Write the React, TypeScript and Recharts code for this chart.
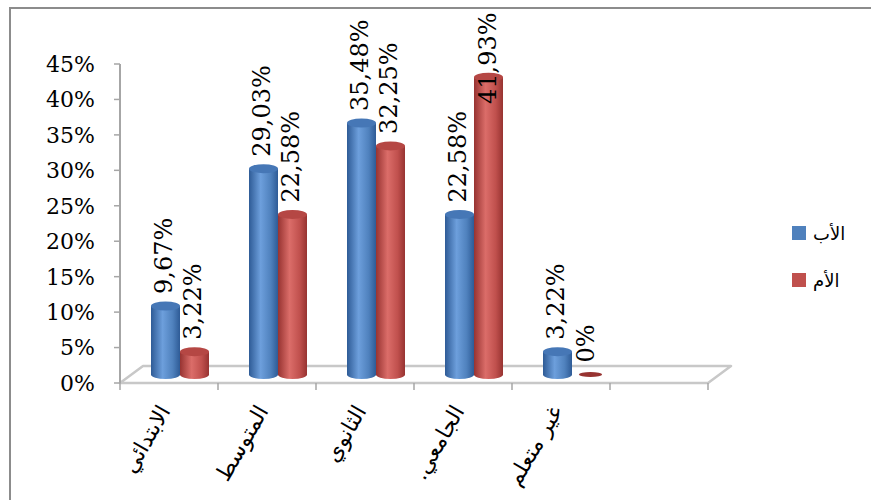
import { BarChart, Bar, XAxis, YAxis, LabelList } from "recharts"

// categories (last one is the empty slot Excel leaves on the floor)
const categories = ["الابتدائي", "المتوسط", "الثانوي", "الجامعي.\u200F", "غير  متعلم", ""]
const fatherValues = [9.67, 29.03, 35.48, 22.58, 3.22, null]
const motherValues = [3.22, 22.58, 32.25, 41.93, 0, null]
const seriesNames = ["الأب", "الأم"]
const yTicks = [0, 5, 10, 15, 20, 25, 30, 35, 40, 45]

const data = categories.map((name, i) => ({
  name,
  father: fatherValues[i],
  mother: motherValues[i],
}))

// layout
const W = 871
const H = 500
const PLOT_LEFT = 120
const PLOT_RIGHT = 708
const PLOT_TOP = 64
const BASE_Y = 383
const BAND = (PLOT_RIGHT - PLOT_LEFT) / categories.length
const DEPTH_X = 23
const DEPTH_Y = 17
const DX = 11 // bars sit half way into the floor
const DY = -8.5
const NUM_FONT = "DejaVu Serif"
const AR_FONT = "DejaVu Sans"
const LABEL_SIZE = 24
const LABEL_LEN = 86
const LABEL_MIN_TOP = 18

const COLORS = {
  father: { base: "#4F81BD", edge: "#2e5b96", mid: "#6d9fdc", top: "#4677b6" },
  mother: { base: "#C0504D", edge: "#973331", mid: "#db6d69", top: "#b54744" },
}

const fmt = (v: number) => (v === 0 ? "0%" : v.toFixed(2).replace(".", ",") + "%")

function Cylinder(props: any) {
  const { x, y, width, height, colors, grad } = props
  if (x == null || width == null) return null
  const left = x + DX
  const right = left + width
  const top = y + DY
  const bottom = y + height + DY
  const rx = width / 2
  const ry = 4.5
  if (height <= 0.5) {
    return <ellipse cx={left + rx + 4} cy={bottom} rx={rx * 0.8} ry={2.5} fill={colors.edge} />
  }
  return (
    <g>
      <path
        d={`M${left},${top} L${left},${bottom} A${rx},${ry} 0 0 0 ${right},${bottom} L${right},${top} Z`}
        fill={`url(#${grad})`}
      />
      <ellipse cx={left + rx} cy={top} rx={rx} ry={ry} fill={colors.top} />
    </g>
  )
}

function BarLabel(props: any) {
  const { x, y, width, value } = props
  if (value == null) return null
  const cx = Number(x) + DX + Number(width) / 2
  const top = Number(y) + DY
  const bottom = Math.max(top - 12, LABEL_MIN_TOP + LABEL_LEN)
  const tx = cx + 7
  return (
    <text
      x={tx}
      y={bottom}
      transform={`rotate(-90 ${tx} ${bottom})`}
      textAnchor="start"
      fontFamily={NUM_FONT}
      fontSize={LABEL_SIZE}
      fill="#000"
    >
      {fmt(Number(value))}
    </text>
  )
}

function CategoryTick(props: any) {
  const { x, payload, index } = props
  const half = BAND / 2
  const ay = BASE_Y + 28
  return (
    <g>
      <line x1={x - half} y1={BASE_Y} x2={x - half} y2={BASE_Y + 7} stroke="#a6a6a6" strokeWidth={1.5} />
      {index === categories.length - 1 && (
        <line x1={x + half} y1={BASE_Y} x2={x + half} y2={BASE_Y + 7} stroke="#a6a6a6" strokeWidth={1.5} />
      )}
      <text
        x={x + 2}
        y={ay}
        transform={`rotate(-60 ${x + 2} ${ay})`}
        textAnchor="end"
        fontFamily={AR_FONT}
        fontSize={22}
        fill="#000"
      >
        {payload.value}
      </text>
    </g>
  )
}

function YTick(props: any) {
  const { x, y, payload } = props
  return (
    <text x={x} y={y} dy="0.36em" textAnchor="end" fontFamily={NUM_FONT} fontSize={22} fill="#000">
      {`${payload.value}%`}
    </text>
  )
}

function Floor() {
  const pts = [
    [PLOT_LEFT, BASE_Y],
    [PLOT_RIGHT, BASE_Y],
    [PLOT_RIGHT + DEPTH_X, BASE_Y - DEPTH_Y],
    [PLOT_LEFT + DEPTH_X, BASE_Y - DEPTH_Y],
  ]
  return (
    <svg width={W} height={H} style={{ position: "absolute", left: 0, top: 0 }}>
      <polygon
        points={pts.map((p) => p.join(",")).join(" ")}
        fill="#fff"
        stroke="#c8c8c8"
        strokeWidth={2.5}
        strokeLinejoin="round"
      />
    </svg>
  )
}

function ChartLegend() {
  const keys: ("father" | "mother")[] = ["father", "mother"]
  return (
    <div style={{ position: "absolute", left: 792, top: 220 }}>
      {keys.map((k, i) => (
        <div
          key={k}
          style={{ display: "flex", alignItems: "center", height: 26, marginBottom: i === 0 ? 21 : 0 }}
        >
          <div style={{ width: 14, height: 14, background: COLORS[k].base, marginRight: 7 }} />
          <span style={{ fontFamily: AR_FONT, fontSize: 18, color: "#000" }}>{seriesNames[i]}</span>
        </div>
      ))}
    </div>
  )
}

export default function App() {
  return (
    <div style={{ position: "absolute", left: 0, top: 0, width: W, height: H, background: "#fff", overflow: "hidden" }}>
      <div
        style={{
          position: "absolute",
          left: 9,
          top: 7,
          right: -4,
          bottom: -4,
          borderLeft: "2px solid #8c8c8c",
          borderTop: "2px solid #8c8c8c",
        }}
      />
      <Floor />
      <div style={{ position: "absolute", left: 0, top: 0 }}>
        <BarChart
          width={W}
          height={H}
          data={data}
          margin={{ top: PLOT_TOP, right: W - PLOT_RIGHT, left: 0, bottom: 0 }}
          barCategoryGap={20}
          barGap={0}
        >
          <defs>
            {(["father", "mother"] as const).map((k) => (
              <linearGradient key={k} id={`grad-${k}`} x1="0" y1="0" x2="1" y2="0">
                <stop offset="0%" stopColor={COLORS[k].edge} />
                <stop offset="40%" stopColor={COLORS[k].mid} />
                <stop offset="75%" stopColor={COLORS[k].base} />
                <stop offset="100%" stopColor={COLORS[k].edge} />
              </linearGradient>
            ))}
          </defs>
          <XAxis
            dataKey="name"
            height={H - BASE_Y}
            axisLine={false}
            tickLine={false}
            interval={0}
            tick={<CategoryTick />}
          />
          <YAxis
            width={PLOT_LEFT}
            domain={[0, 45]}
            ticks={yTicks}
            interval={0}
            axisLine={{ stroke: "#a6a6a6", strokeWidth: 2 }}
            tickLine={{ stroke: "#a6a6a6", strokeWidth: 1.5 }}
            tickSize={6}
            tickMargin={19}
            tick={<YTick />}
          />
          <Bar
            dataKey="father"
            name={seriesNames[0]}
            isAnimationActive={false}
            shape={(p: any) => <Cylinder {...p} colors={COLORS.father} grad="grad-father" />}
          >
            <LabelList dataKey="father" content={<BarLabel />} />
          </Bar>
          <Bar
            dataKey="mother"
            name={seriesNames[1]}
            isAnimationActive={false}
            shape={(p: any) => <Cylinder {...p} colors={COLORS.mother} grad="grad-mother" />}
          >
            <LabelList dataKey="mother" content={<BarLabel />} />
          </Bar>
        </BarChart>
      </div>
      <ChartLegend />
    </div>
  )
}
